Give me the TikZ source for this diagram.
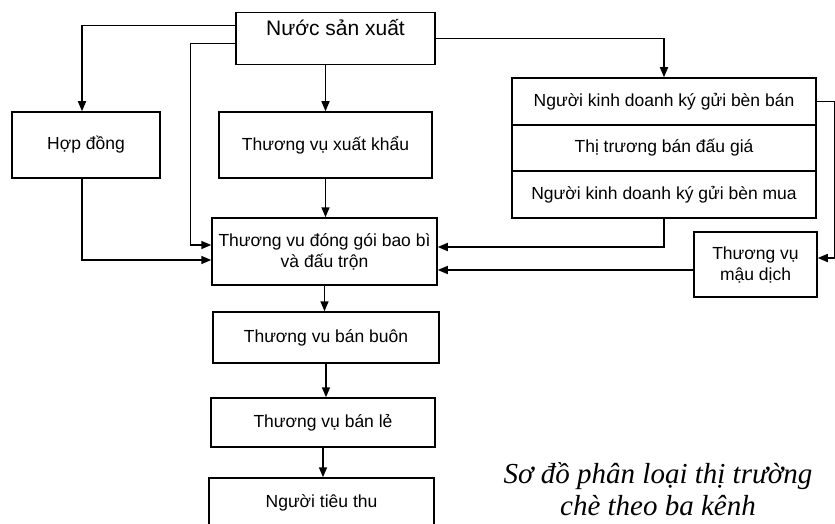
\documentclass[tikz,border=0pt]{standalone}
\usepackage{fontspec}
\setmainfont{Liberation Sans}
\newfontfamily\captionfont{Liberation Serif}
\usetikzlibrary{arrows.meta}
\begin{document}
\begin{tikzpicture}[x=1pt,y=-1pt,line width=1.5pt,
	box/.style={draw,inner sep=0pt,align=center,font=\fontsize{17.5}{21}\selectfont},
	arr/.style={-{Triangle[length=10pt,width=8pt]}}]
	\useasboundingbox (0,0) rectangle (835,524);
	\node [box,minimum width=199pt,minimum height=52pt,font=\fontsize{21}{24}\selectfont,text height=15pt,text depth=21pt] (nsx) at (335.5,38.5) {Nước sản xuất};
	\node [box,minimum width=148pt,minimum height=66pt] (hop) at (86,145) {Hợp đồng};
	\node [box,minimum width=213pt,minimum height=66pt] (xk) at (325.5,145) {Thương vụ xuất khẩu};
	\node [box,minimum width=304pt,minimum height=47pt] (ban) at (664,101.5) {Người kinh doanh ký gửi bèn bán};
	\node [box,minimum width=304pt,minimum height=46pt] (daugia) at (664,148) {Thị trương bán đấu giá};
	\node [box,minimum width=304pt,minimum height=47pt] (mua) at (664,194.5) {Người kinh doanh ký gửi bèn mua};
	\node [box,minimum width=225pt,minimum height=67pt] (dg) at (324.5,251.5) {Thương vu đóng gói bao bì\\và đấu trộn};
	\node [box,minimum width=123pt,minimum height=65pt] (md) at (755.5,264.5) {Thương vụ\\mậu dịch};
	\node [box,minimum width=226pt,minimum height=51pt] (bb) at (326,337.5) {Thương vu bán buôn};
	\node [box,minimum width=224pt,minimum height=49pt] (bl) at (323,422.5) {Thương vụ bán lẻ};
	\node [box,minimum width=225pt,minimum height=50pt] (ntt) at (321.5,503) {Người tiêu thu};
	\node [align=center,font=\captionfont\itshape\fontsize{29}{32}\selectfont] (cap) at (658,489) {Sơ đồ phân loại thị trường\\chè theo ba kênh};
	\draw [arr] ([yshift=13pt]nsx.west) -| ([xshift=-4pt]hop.north);
	\draw [arr] ([yshift=-5pt]nsx.west) -- ++(-45,0) |- ([yshift=6.5pt]dg.west);
	\draw [arr] ([xshift=-4pt]hop.south) |- ([yshift=-8.5pt]dg.west);
	\draw [arr] (xk.north |- nsx.south) -- (xk.north);
	\draw [arr] (xk.south) -- (xk.south |- dg.north);
	\draw [arr] (nsx.east) -| (ban.north);
	\draw [arr] (ban.east) -- ++(18,0) |- ([yshift=6.5pt]md.east);
	\draw [arr] (mua.south) |- ([yshift=4.5pt]dg.east);
	\draw [arr] ([yshift=-5.5pt]md.west) -- ([yshift=-5.5pt]md.west -| dg.east);
	\draw [arr] (dg.south) -- (dg.south |- bb.north);
	\draw [arr] (bb.south) -- (bb.south |- bl.north);
	\draw [arr] (bl.south) -- (bl.south |- ntt.north);
\end{tikzpicture}
\end{document}
